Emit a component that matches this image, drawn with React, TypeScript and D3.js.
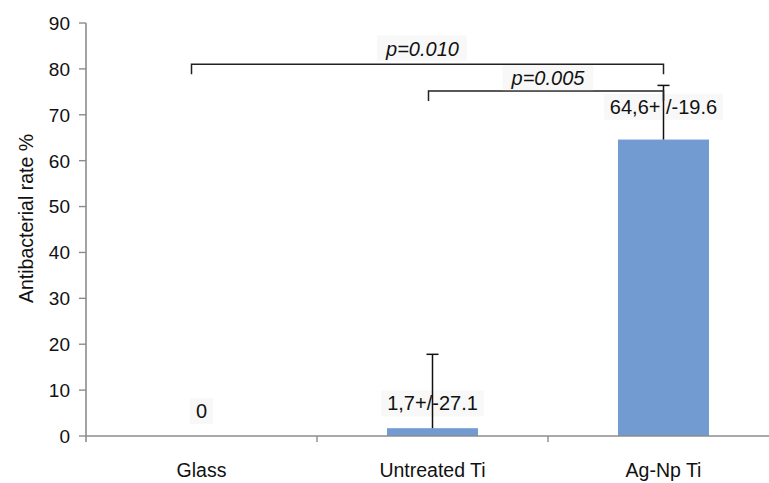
import React, { useEffect, useRef } from 'react';
import * as d3 from 'd3';

// values
const categories = ['Glass', 'Untreated Ti', 'Ag-Np Ti'];
const rates = [0, 1.7, 64.6];
const errorsPlus = [0, 16.1, 11.8];
const valueLabels = ['0', '1,7+/-27.1', '64,6+ /-19.6'];
const yTicks = [0, 10, 20, 30, 40, 50, 60, 70, 80, 90];

const comparisonFrom = ['Glass', 'Untreated Ti'];
const comparisonTo = ['Ag-Np Ti', 'Ag-Np Ti'];
const comparisonLevel = [81, 75.2];
const comparisonText = ['p=0.010', 'p=0.005'];

const App: React.FC = () => {
    const svgRef = useRef<SVGSVGElement | null>(null);

    useEffect(() => {
        const svg = d3.select(svgRef.current);
        svg.selectAll('*').remove();

        const width = 769;
        const height = 483;
        const left = 86;
        const font = '"Liberation Sans", Arial, sans-serif';

        const x = d3.scaleBand<string>()
            .domain(categories)
            .range([left, 779])
            .paddingInner(0.606)
            .paddingOuter(0.303);

        const y = d3.scaleLinear()
            .domain([0, 90])
            .range([436, 23]);

        svg.attr('width', width).attr('height', height);

        const center = (c: string) => (x(c) || 0) + x.bandwidth() / 2;
        const step = x.step();

        // bars
        svg.selectAll('.bar')
            .data(rates)
            .enter().append('rect')
            .attr('class', 'bar')
            .attr('x', (_, i) => x(categories[i]) || 0)
            .attr('y', d => y(d))
            .attr('width', x.bandwidth())
            .attr('height', d => y(0) - y(d))
            .attr('fill', '#719bd1');

        // axes
        const axisColor = '#8c8c8c';
        svg.append('line')
            .attr('x1', left).attr('x2', left)
            .attr('y1', y(90)).attr('y2', y(0) + 6)
            .attr('stroke', axisColor).attr('stroke-width', 1.6);
        svg.append('line')
            .attr('x1', left).attr('x2', width)
            .attr('y1', y(0)).attr('y2', y(0))
            .attr('stroke', axisColor).attr('stroke-width', 1.6);

        svg.selectAll('.ytick')
            .data(yTicks)
            .enter().append('line')
            .attr('class', 'ytick')
            .attr('x1', left - 7).attr('x2', left)
            .attr('y1', d => y(d)).attr('y2', d => y(d))
            .attr('stroke', axisColor).attr('stroke-width', 1.4);

        svg.selectAll('.ylabel')
            .data(yTicks)
            .enter().append('text')
            .attr('class', 'ylabel')
            .attr('x', left - 16)
            .attr('y', d => y(d))
            .attr('dy', '0.36em')
            .attr('text-anchor', 'end')
            .attr('font-family', font)
            .attr('font-size', 19)
            .attr('fill', '#111')
            .text(d => d);

        // category boundary ticks
        [1, 2].forEach(k => {
            svg.append('line')
                .attr('x1', left + k * step).attr('x2', left + k * step)
                .attr('y1', y(0)).attr('y2', y(0) + 6)
                .attr('stroke', axisColor).attr('stroke-width', 1.4);
        });

        svg.selectAll('.xlabel')
            .data(categories)
            .enter().append('text')
            .attr('class', 'xlabel')
            .attr('x', d => center(d))
            .attr('y', 477)
            .attr('text-anchor', 'middle')
            .attr('font-family', font)
            .attr('font-size', 19.5)
            .attr('fill', '#111')
            .text(d => d);

        svg.append('text')
            .attr('transform', `translate(33,${(y(0) + y(90)) / 2 - 11}) rotate(-90)`)
            .attr('text-anchor', 'middle')
            .attr('font-family', font)
            .attr('font-size', 19.5)
            .attr('fill', '#111')
            .text('Antibacterial rate %');

        // value labels with light boxes
        const lift = [25, 25, 33];
        valueLabels.forEach((lab, i) => {
            const g = svg.append('g');
            const t = g.append('text')
                .attr('x', center(categories[i]))
                .attr('y', y(rates[i]) - lift[i])
                .attr('dy', '0.36em')
                .attr('text-anchor', 'middle')
                .attr('font-family', font)
                .attr('font-size', 20)
                .attr('fill', '#111')
                .text(lab);
            const bb = (t.node() as SVGTextElement).getBBox();
            g.insert('rect', 'text')
                .attr('x', bb.x - 6).attr('y', bb.y - 2)
                .attr('width', bb.width + 12).attr('height', bb.height + 4)
                .attr('fill', '#f8f8f8');
        });

        // error bars (plus direction only)
        rates.forEach((v, i) => {
            if (!errorsPlus[i]) return;
            const cx = center(categories[i]);
            svg.append('line')
                .attr('x1', cx).attr('x2', cx)
                .attr('y1', y(v)).attr('y2', y(v + errorsPlus[i]))
                .attr('stroke', '#111').attr('stroke-width', 1.5);
            svg.append('line')
                .attr('x1', cx - 6).attr('x2', cx + 6)
                .attr('y1', y(v + errorsPlus[i])).attr('y2', y(v + errorsPlus[i]))
                .attr('stroke', '#111').attr('stroke-width', 1.5);
        });

        // significance brackets
        const leftShift = [-10, -4];
        comparisonText.forEach((txt, i) => {
            const x1 = center(comparisonFrom[i]) + leftShift[i];
            const x2 = center(comparisonTo[i]);
            const ly = y(comparisonLevel[i]);
            svg.append('path')
                .attr('d', `M${x1},${ly + 10}V${ly}H${x2}V${ly + 10}`)
                .attr('fill', 'none')
                .attr('stroke', '#222')
                .attr('stroke-width', 1.5);
            const g = svg.append('g');
            const t = g.append('text')
                .attr('x', (x1 + x2) / 2 - 5 + i * 7)
                .attr('y', ly - 16 + i * 3)
                .attr('dy', '0.36em')
                .attr('text-anchor', 'middle')
                .attr('font-family', font)
                .attr('font-size', 20)
                .attr('font-style', 'italic')
                .attr('fill', '#111')
                .text(txt);
            const bb = (t.node() as SVGTextElement).getBBox();
            g.insert('rect', 'text')
                .attr('x', bb.x - 8).attr('y', bb.y - 2)
                .attr('width', bb.width + 16).attr('height', bb.height + 3)
                .attr('fill', '#f8f8f8');
        });
    }, []);

    return (
        <svg ref={svgRef} style={{ position: 'absolute', left: 0, top: 0, background: '#fff' }}></svg>
    );
};

export default App;
